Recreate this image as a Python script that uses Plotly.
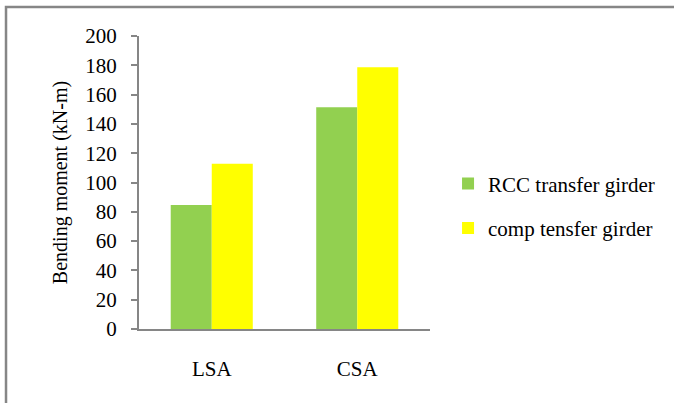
import plotly.graph_objects as go

# Bending moment by analysis type
categories = ["LSA", "CSA"]
rcc_girder = [84.6, 151.3]
comp_girder = [112.8, 178.6]
series_names = ["RCC transfer girder", "comp tensfer girder"]
y_ticks = [0, 20, 40, 60, 80, 100, 120, 140, 160, 180, 200]

FONT = "Liberation Serif"
AXIS_GREY = "#868686"

fig = go.Figure()
fig.add_trace(go.Bar(x=categories, y=rcc_girder, name=series_names[0],
                     marker=dict(color="#92D050", line=dict(width=0)),
                     legendgroup="a"))
fig.add_trace(go.Bar(x=categories, y=comp_girder, name=series_names[1],
                     marker=dict(color="#FFFF00", line=dict(width=0)),
                     legendgroup="b"))

fig.update_layout(
    width=674, height=403,
    margin=dict(l=139, r=244, t=36, b=74, autoexpand=False),
    paper_bgcolor="white", plot_bgcolor="white",
    font=dict(family=FONT, size=21, color="black"),
    barmode="group", bargap=0.436, bargroupgap=0,
    showlegend=True,
    legend=dict(x=1.062, y=0.42, xanchor="left", yanchor="middle",
                traceorder="grouped", tracegroupgap=14,
                font=dict(family=FONT, size=21, color="black"),
                itemwidth=30, bgcolor="rgba(0,0,0,0)"),
    xaxis=dict(showline=True, linecolor=AXIS_GREY, linewidth=2,
               ticks="", showgrid=False, ticklabelstandoff=20,
               tickfont=dict(family=FONT, size=21, color="black")),
    yaxis=dict(range=[0, 200], tickvals=y_ticks, showline=True,
               linecolor=AXIS_GREY, linewidth=2, ticks="outside",
               ticklen=6, tickcolor=AXIS_GREY, tickwidth=2,
               showgrid=False, zeroline=False, ticklabelstandoff=10,
               tickfont=dict(family=FONT, size=21, color="black"),
               title=dict(text="Bending moment (kN-m)", standoff=12,
                          font=dict(family=FONT, size=20, color="black"))),
    shapes=[dict(type="rect", xref="paper", yref="paper",
                 x0=-0.457, y0=-1.0, x1=2.0, y1=1.099,
                 line=dict(color=AXIS_GREY, width=2.5),
                 fillcolor="rgba(0,0,0,0)", layer="below")],
)

fig.write_html("out.html")
